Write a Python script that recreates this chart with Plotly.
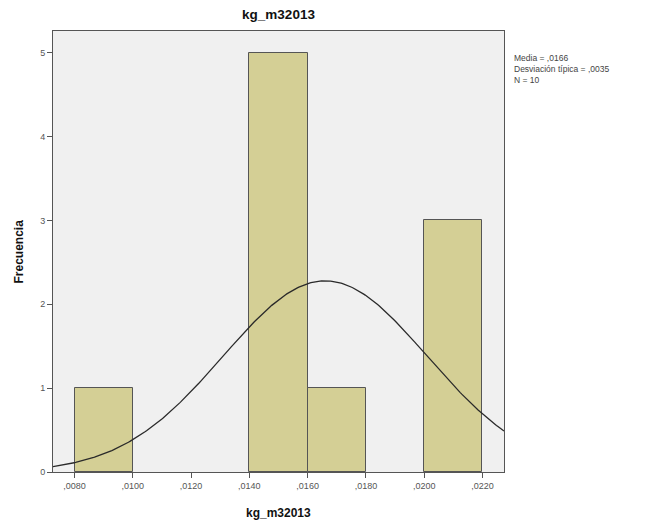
import numpy as np
import plotly.graph_objects as go

# Histogram bins (kg_m32013) and their frequencies
bin_left = [0.008, 0.010, 0.012, 0.014, 0.016, 0.018, 0.020]
counts = [1, 0, 0, 5, 1, 0, 3]
bin_width = 0.002

# Summary statistics shown next to the plot
mean = 0.0166
std = 0.0035
n = 10

x_ticks = [0.008, 0.010, 0.012, 0.014, 0.016, 0.018, 0.020, 0.022]
x_tick_text = [",0080", ",0100", ",0120", ",0140", ",0160", ",0180", ",0200", ",0220"]
y_ticks = [0, 1, 2, 3, 4, 5]

x_range = [0.00726, 0.02274]
y_range = [0, 5.26]

centers = [b + bin_width / 2 for b, c in zip(bin_left, counts) if c > 0]
heights = [c for c in counts if c > 0]

fig = go.Figure()
fig.add_trace(go.Bar(
    x=centers, y=heights, width=bin_width,
    marker=dict(color="#D4CF95", line=dict(color="#555555", width=1)),
    hoverinfo="skip",
))

# Fitted normal curve scaled to counts
xs = np.linspace(x_range[0], x_range[1], 300)
ys = n * bin_width / (std * np.sqrt(2 * np.pi)) * np.exp(-0.5 * ((xs - mean) / std) ** 2)
fig.add_trace(go.Scatter(x=xs, y=ys, mode="lines",
                         line=dict(color="#2a2a2a", width=1.3), hoverinfo="skip"))

font = "Liberation Sans, Arial, sans-serif"
fig.update_layout(
    width=645, height=523,
    margin=dict(l=53, r=141, t=31, b=51),
    paper_bgcolor="white", plot_bgcolor="#F0F0F0",
    showlegend=False,
    bargap=0,
    font=dict(family=font, size=9, color="#444444"),
    title=dict(text="<b>kg_m32013</b>", x=(53 + 504) / 2 / 645, xanchor="center",
               y=1 - 14 / 523, yanchor="middle",
               font=dict(family=font, size=13.5, color="#111111")),
)
axis_style = dict(
    showgrid=False, zeroline=False, automargin=False,
    showline=True, linecolor="#555555", linewidth=1, mirror=True,
    ticks="outside", ticklen=5, tickcolor="#555555",
    tickfont=dict(size=9, color="#555555"),
)
fig.update_xaxes(range=x_range, tickvals=x_ticks, ticktext=x_tick_text, **axis_style)
fig.update_yaxes(range=y_range, tickvals=y_ticks, **axis_style)

# Axis titles
fig.add_annotation(
    xref="paper", yref="paper", x=0.5, y=0, yshift=-41, xanchor="center", yanchor="middle",
    showarrow=False, text="<b>kg_m32013</b>",
    font=dict(family=font, size=12, color="#111111"),
)
fig.add_annotation(
    xref="paper", yref="paper", x=0, y=0.5, xshift=-35, xanchor="center", yanchor="middle",
    showarrow=False, text="<b>Frecuencia</b>", textangle=-90,
    font=dict(family=font, size=12, color="#111111"),
)

fig.add_annotation(
    xref="paper", yref="paper", x=1.0, y=1 - 20 / 441, xanchor="left", yanchor="top",
    xshift=8, align="left", showarrow=False,
    text="Media = ,0166<br>Desviación típica = ,0035<br>N = 10",
    font=dict(family=font, size=8.5, color="#444444"),
)

fig.write_html("out.html")
